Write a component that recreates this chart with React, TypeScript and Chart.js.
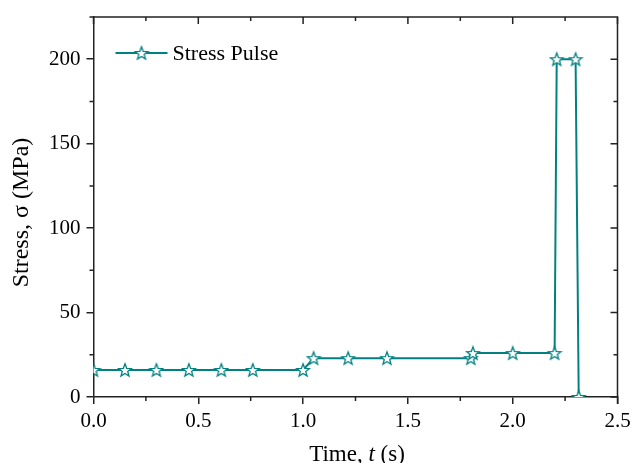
import React, { useEffect, useRef } from "react";
import { Chart, registerables } from "chart.js";

Chart.register(...registerables);

// ---- data ----
const timeValues = [0, 0.15, 0.3, 0.455, 0.61, 0.76, 1.0, 1.05, 1.215, 1.4, 1.8, 1.81, 2.0, 2.2, 2.21, 2.3, 2.315];
const stressValues = [16, 16, 16, 16, 16, 16, 16, 23, 23, 23, 23, 26, 26, 26, 200, 200, 0];
const seriesLabel = "Stress Pulse";
const xMajorTicks = [0, 0.5, 1.0, 1.5, 2.0, 2.5];
const xMinorTicks = [0.25, 0.75, 1.25, 1.75, 2.25];
const yMajorTicks = [0, 50, 100, 150, 200];
const yMinorTicks = [25, 75, 125, 175];
const xTitleParts = ["Time, ", "t", " (s)"];
const yTitle = "Stress, σ (MPa)";

const TEAL = "#008080";
const AXIS = "#222";
const FONT = "'Liberation Serif', 'Times New Roman', serif";

function makeStar(size: number): HTMLCanvasElement {
  const c = document.createElement("canvas");
  c.width = size;
  c.height = size;
  const ctx = c.getContext("2d")!;
  const cx = size / 2;
  const cy = size / 2 + 0.6;
  const R = size / 2 - 1.2;
  const r = R * 0.42;
  ctx.beginPath();
  for (let i = 0; i < 10; i++) {
    const rad = i % 2 === 0 ? R : r;
    const a = -Math.PI / 2 + (i * Math.PI) / 5;
    const px = cx + rad * Math.cos(a);
    const py = cy + rad * Math.sin(a);
    if (i === 0) ctx.moveTo(px, py);
    else ctx.lineTo(px, py);
  }
  ctx.closePath();
  ctx.fillStyle = "#fff";
  ctx.fill();
  ctx.strokeStyle = TEAL;
  ctx.lineWidth = 1.3;
  ctx.stroke();
  return c;
}

export default function App() {
  const ref = useRef<HTMLCanvasElement | null>(null);

  useEffect(() => {
    if (!ref.current) return;
    const star = makeStar(16);

    const framePlugin = {
      id: "frame",
      afterDraw(chart: any) {
        const ctx = chart.ctx as CanvasRenderingContext2D;
        const { left, right, top, bottom } = chart.chartArea;
        const xs = chart.scales.x;
        const ys = chart.scales.y;
        ctx.save();
        ctx.strokeStyle = AXIS;
        ctx.lineWidth = 1.5;
        // top and right border
        ctx.beginPath();
        ctx.moveTo(left - 4, top);
        ctx.lineTo(right, top);
        ctx.lineTo(right, bottom + 7);
        ctx.stroke();
        const MAJ = 7;
        const MIN = 4;
        ctx.beginPath();
        for (const v of xMinorTicks) {
          const p = xs.getPixelForValue(v);
          ctx.moveTo(p, bottom);
          ctx.lineTo(p, bottom + MIN);
          ctx.moveTo(p, top);
          ctx.lineTo(p, top + MIN);
        }
        for (const v of xMajorTicks) {
          const p = xs.getPixelForValue(v);
          ctx.moveTo(p, top);
          ctx.lineTo(p, top + MAJ);
        }
        for (const v of yMinorTicks) {
          const p = ys.getPixelForValue(v);
          ctx.moveTo(left, p);
          ctx.lineTo(left - MIN, p);
          ctx.moveTo(right, p);
          ctx.lineTo(right - MIN, p);
        }
        for (const v of yMajorTicks) {
          const p = ys.getPixelForValue(v);
          ctx.moveTo(right, p);
          ctx.lineTo(right - MAJ, p);
        }
        ctx.stroke();

        // legend
        const ly = top + 36;
        ctx.strokeStyle = TEAL;
        ctx.lineWidth = 2;
        ctx.beginPath();
        ctx.moveTo(left + 22, ly);
        ctx.lineTo(left + 74, ly);
        ctx.stroke();
        ctx.drawImage(star, left + 48 - star.width / 2, ly - star.height / 2);
        ctx.fillStyle = "#000";
        ctx.font = `22px ${FONT}`;
        ctx.textBaseline = "alphabetic";
        ctx.textAlign = "left";
        ctx.fillText(seriesLabel, left + 79, ly + 6.5);

        // x title with italic t
        const fontN = `23px ${FONT}`;
        const fontI = `italic 23px ${FONT}`;
        const fonts = [fontN, fontI, fontN];
        let total = 0;
        const widths = xTitleParts.map((s, i) => {
          ctx.font = fonts[i];
          const w = ctx.measureText(s).width;
          total += w;
          return w;
        });
        let x = (left + right) / 2 + 1.5 - total / 2;
        const ty = bottom + 63.5;
        xTitleParts.forEach((s, i) => {
          ctx.font = fonts[i];
          ctx.fillText(s, x, ty);
          x += widths[i];
        });

        // y title
        ctx.font = `24px ${FONT}`;
        ctx.translate(20, (top + bottom) / 2 + 5.5);
        ctx.rotate(-Math.PI / 2);
        ctx.textAlign = "center";
        ctx.textBaseline = "alphabetic";
        ctx.fillText(yTitle, 0, 0);
        ctx.restore();
      },
    };

    const chart = new Chart(ref.current, {
      type: "line",
      data: {
        datasets: [
          {
            label: seriesLabel,
            data: timeValues.map((t, i) => ({ x: t, y: stressValues[i] })),
            borderColor: TEAL,
            backgroundColor: TEAL,
            borderWidth: 2,
            pointStyle: star as any,
            pointRadius: 7,
            pointHoverRadius: 7,
            tension: 0,
            fill: false,
          },
        ],
      },
      options: {
        responsive: false,
        animation: false,
        events: [],
        layout: { padding: { left: 0, right: 15.5, top: 6, bottom: 0 } },
        plugins: {
          legend: { display: false },
          tooltip: { enabled: false },
        },
        scales: {
          x: {
            type: "linear",
            min: 0,
            max: 2.5,
            afterBuildTicks: (s: any) => {
              s.ticks = xMajorTicks.map((v) => ({ value: v }));
            },
            afterFit: (s: any) => {
              s.height = 66;
              s.paddingLeft = 0;
              s.paddingRight = 0;
            },
            ticks: {
              color: "#000",
              font: { family: FONT, size: 21 },
              padding: 4.5,
              maxRotation: 0,
              callback: (v: any) => Number(v).toFixed(1),
            },
            grid: {
              drawOnChartArea: false,
              drawTicks: true,
              tickLength: 7,
              color: AXIS,
              lineWidth: 1.5,
            },
            border: { display: true, color: AXIS, width: 1.5 },
          },
          y: {
            type: "linear",
            min: 0,
            max: 225,
            afterBuildTicks: (s: any) => {
              s.ticks = yMajorTicks.map((v) => ({ value: v }));
            },
            afterFit: (s: any) => {
              s.width = 85.5;
              s.paddingTop = 0;
              s.paddingBottom = 0;
            },
            ticks: {
              color: "#000",
              font: { family: FONT, size: 21 },
              padding: 6,
              callback: (v: any) => String(v),
            },
            grid: {
              drawOnChartArea: false,
              drawTicks: true,
              tickLength: 7,
              color: AXIS,
              lineWidth: 1.5,
            },
            border: { display: true, color: AXIS, width: 1.5 },
          },
        },
      },
      plugins: [framePlugin],
    });
    return () => chart.destroy();
  }, []);

  return <canvas ref={ref} width={625} height={455} style={{ display: "block" }} />;
}
